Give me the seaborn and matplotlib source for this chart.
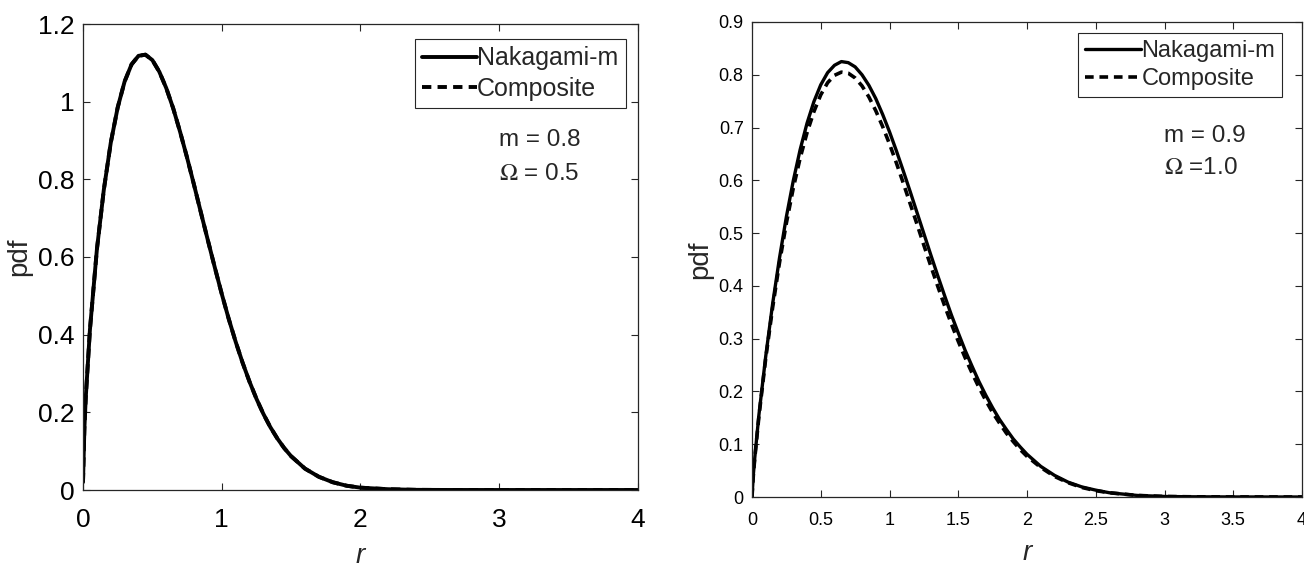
import numpy as np
import pandas as pd
import matplotlib
matplotlib.use("Agg")
import matplotlib.pyplot as plt
import seaborn as sns

# --- values ---
r_left = [0, 0.01, 0.02, 0.05, 0.1, 0.15, 0.2, 0.25, 0.3, 0.35, 0.4, 0.45, 0.5, 0.55, 0.6,
          0.65, 0.7, 0.75, 0.8, 0.85, 0.9, 0.95, 1.0, 1.05, 1.1, 1.15, 1.2, 1.25, 1.3, 1.35,
          1.4, 1.45, 1.5, 1.6, 1.7, 1.8, 1.9, 2.0, 2.2, 2.4, 2.6, 3.0, 4.0]
naka_left = [0.02, 0.158, 0.239, 0.413, 0.619, 0.773, 0.894, 0.985, 1.052, 1.096, 1.118, 1.121,
             1.107, 1.077, 1.035, 0.983, 0.922, 0.856, 0.786, 0.714, 0.643, 0.573, 0.505,
             0.441, 0.382, 0.328, 0.279, 0.235, 0.196, 0.162, 0.133, 0.108, 0.087, 0.055,
             0.034, 0.020, 0.011, 0.006, 0.002, 0.0004, 0.0001, 0, 0]
comp_left = naka_left  # overlaps the Nakagami curve everywhere

r_right = [0, 0.01, 0.02, 0.05, 0.1, 0.15, 0.2, 0.25, 0.3, 0.35, 0.4, 0.45, 0.5, 0.55, 0.6,
           0.65, 0.7, 0.75, 0.8, 0.85, 0.9, 0.95, 1.0, 1.05, 1.1, 1.15, 1.2, 1.25, 1.3, 1.35,
           1.4, 1.45, 1.5, 1.55, 1.6, 1.65, 1.7, 1.75, 1.8, 1.85, 1.9, 1.95, 2.0, 2.1, 2.2,
           2.3, 2.4, 2.5, 2.6, 2.8, 3.0, 3.2, 3.5, 4.0]
naka_right = [0, 0.043, 0.074, 0.155, 0.267, 0.366, 0.453, 0.531, 0.599, 0.658, 0.708, 0.749,
              0.781, 0.804, 0.818, 0.825, 0.823, 0.815, 0.800, 0.780, 0.755, 0.725, 0.692,
              0.656, 0.618, 0.579, 0.539, 0.499, 0.459, 0.420, 0.382, 0.345, 0.311, 0.278,
              0.248, 0.219, 0.193, 0.169, 0.147, 0.128, 0.110, 0.095, 0.081, 0.058, 0.041,
              0.028, 0.019, 0.013, 0.008, 0.003, 0.001, 0.0004, 0.0001, 0]
comp_right = [0, 0.042, 0.073, 0.152, 0.263, 0.359, 0.444, 0.519, 0.585, 0.642, 0.690, 0.730,
              0.762, 0.785, 0.799, 0.805, 0.803, 0.794, 0.779, 0.758, 0.732, 0.702, 0.669,
              0.633, 0.595, 0.556, 0.517, 0.477, 0.438, 0.400, 0.363, 0.328, 0.295, 0.264,
              0.235, 0.208, 0.183, 0.160, 0.140, 0.121, 0.105, 0.090, 0.077, 0.056, 0.039,
              0.027, 0.018, 0.012, 0.008, 0.003, 0.001, 0.0004, 0.0001, 0]

left_yticks = [0, 0.2, 0.4, 0.6, 0.8, 1.0, 1.2]
left_yticklabels = ["0", "0.2", "0.4", "0.6", "0.8", "1", "1.2"]
left_xticks = [0, 1, 2, 3, 4]
right_yticks = [0, 0.1, 0.2, 0.3, 0.4, 0.5, 0.6, 0.7, 0.8, 0.9]
right_xticks = [0, 0.5, 1, 1.5, 2, 2.5, 3, 3.5, 4]
right_xticklabels = ["0", "0.5", "1", "1.5", "2", "2.5", "3", "3.5", "4"]

sns.set_theme(style="white")
plt.rcParams["font.family"] = ["Liberation Sans", "DejaVu Sans"]
plt.rcParams["mathtext.fontset"] = "stix"

fig = plt.figure(figsize=(13.04, 5.67), dpi=100)
ax1 = fig.add_axes([83 / 1304, 77 / 567, 555 / 1304, 466 / 567])
ax2 = fig.add_axes([752 / 1304, 70 / 567, 550 / 1304, 475 / 567])

DASH = (0, (2.4, 1.6))
EDGE = "#262626"


def draw_panel(ax, r, naka, comp, tick_fs, lw_solid, lw_dash):
    sns.lineplot(x=r, y=naka, ax=ax, color="black", lw=lw_solid, label="Nakagami-m")
    sns.lineplot(x=r, y=comp, ax=ax, color="black", lw=lw_dash, linestyle=DASH, label="Composite")
    ax.set_xlim(0, 4)
    for s in ax.spines.values():
        s.set_visible(True)
        s.set_color(EDGE)
        s.set_linewidth(0.9)
    ax.tick_params(direction="in", length=5, width=0.8, color=EDGE, top=True, right=True,
                   labelsize=tick_fs, colors="black", pad=6)
    ax.tick_params(axis="x", pad=13)
    ax.tick_params(axis="both", which="both", bottom=True, left=True)
    ax.set_ylabel("pdf", fontsize=20, labelpad=4)
    ax.set_xlabel("r", fontsize=20, style="italic", labelpad=8)


draw_panel(ax1, r_left, naka_left, comp_left, 19, 2.8, 2.8)
ax1.set_ylim(0, 1.2)
ax1.set_yticks(left_yticks)
ax1.set_yticklabels(left_yticklabels)
ax1.set_xticks(left_xticks)
leg1 = ax1.legend(loc="upper right", bbox_to_anchor=(0.978, 0.968), fontsize=18,
                  handlelength=2.2, handletextpad=0.0, borderpad=0.3, labelspacing=0.25,
                  fancybox=False, framealpha=1, edgecolor=EDGE, borderaxespad=0)
leg1.get_frame().set_linewidth(0.8)
ax1.text(3.0, 0.902, "m = 0.8", fontsize=17.5, va="center", ha="left")
ax1.text(3.0, 0.814, r"$\Omega$ = 0.5", fontsize=17.5, va="center", ha="left")

draw_panel(ax2, r_right, naka_right, comp_right, 13, 2.4, 2.6)
ax2.tick_params(axis="x", pad=11)
ax2.set_ylim(0, 0.9)
ax2.set_yticks(right_yticks)
ax2.set_yticklabels([f"{v:g}" for v in right_yticks])
ax2.set_xticks(right_xticks)
ax2.set_xticklabels(right_xticklabels)
leg2 = ax2.legend(loc="upper right", bbox_to_anchor=(0.964, 0.976), fontsize=17,
                  handlelength=2.4, handletextpad=0.0, borderpad=0.3, labelspacing=0.25,
                  fancybox=False, framealpha=1, edgecolor=EDGE, borderaxespad=0)
leg2.get_frame().set_linewidth(0.8)
ax2.text(3.0, 0.684, "m = 0.9", fontsize=17.5, va="center", ha="left")
ax2.text(3.0, 0.624, r"$\Omega$ =1.0", fontsize=17.5, va="center", ha="left")

fig.savefig("out.png", dpi=100)
